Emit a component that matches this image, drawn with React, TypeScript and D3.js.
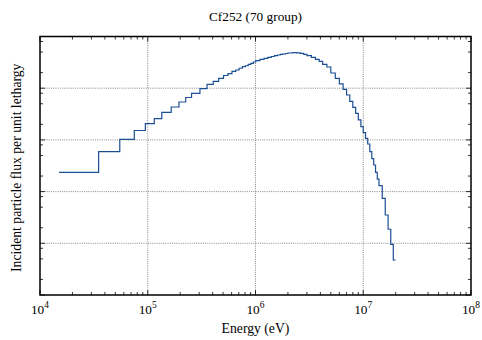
import React from "react";
import * as d3 from "d3";

// Group boundaries (eV) of the 70-group source spectrum, lowest first.
const groupBounds: number[] = [
  1.5e4, 3.5e4, 5.5e4, 7.5e4, 9.5e4, 1.15e5, 1.35e5, 1.65e5, 1.95e5, 2.25e5,
  2.55e5, 3.05e5, 3.55e5, 4.05e5, 4.55e5, 5.05e5, 5.55e5, 6.05e5, 6.55e5, 7.05e5,
  7.55e5, 8.05e5, 8.55e5, 9.05e5, 9.55e5, 1.005e6,
  1.1e6, 1.2e6, 1.3e6, 1.4e6, 1.5e6, 1.6e6, 1.7e6, 1.8e6, 1.9e6, 2.0e6,
  2.2e6, 2.4e6, 2.6e6, 2.8e6, 3.0e6, 3.3e6, 3.6e6, 3.9e6, 4.2e6, 4.6e6,
  5.0e6, 5.5e6, 6.0e6, 6.5e6, 7.0e6, 7.5e6, 8.0e6, 8.5e6, 9.0e6, 9.5e6,
  1.0e7, 1.05e7, 1.1e7, 1.15e7, 1.2e7, 1.25e7, 1.3e7, 1.35e7, 1.4e7,
  1.5e7, 1.6e7, 1.7e7, 1.8e7, 1.9e7, 2.0e7,
];

// Flux per unit lethargy in each group (arbitrary units).
const groupFlux: number[] = [
  0.00236, 0.00591, 0.0102, 0.0152, 0.0206, 0.0259, 0.0342, 0.0433, 0.0541, 0.0661,
  0.0797, 0.0978, 0.119, 0.136, 0.155, 0.176, 0.191, 0.212, 0.225, 0.243,
  0.261, 0.272, 0.29, 0.303, 0.321,
  0.343, 0.362, 0.379, 0.396, 0.41, 0.425, 0.439, 0.451, 0.459, 0.469,
  0.48, 0.486, 0.484, 0.473, 0.453, 0.425, 0.396, 0.362, 0.331, 0.29,
  0.257,
  0.197, 0.155, 0.121, 0.0952, 0.0739, 0.0558, 0.0427, 0.0327, 0.0243, 0.018,
  0.0138, 0.0107, 0.00833, 0.00591, 0.00433, 0.00327, 0.00236, 0.00175, 0.0013,
  0.000742, 0.000353, 0.000187, 0.0000957, 0.0000475,
];

const xDecades: number[] = [1e4, 1e5, 1e6, 1e7, 1e8];
const xTickExponents: string[] = ["4", "5", "6", "7", "8"];
const yDecades: number[] = [1e-5, 1e-4, 1e-3, 1e-2, 1e-1, 1];
const xMinorFactors: number[] = [2, 3, 4, 5, 6, 7, 8, 9];
const yMinorFactors: number[] = [2, 5, 8];

const titleText = "Cf252 (70 group)";
const xLabelText = "Energy (eV)";
const yLabelText = "Incident particle flux per unit lethargy";

const W = 482;
const H = 340;
const plot = { left: 40, right: 471, top: 36.5, bottom: 295 };
const FONT = "'Liberation Serif', 'Times New Roman', serif";
const LINE = "#1a4f94";

export default function App() {
  const x = d3.scaleLog().domain([1e4, 1e8]).range([plot.left, plot.right]);
  const y = d3.scaleLog().domain([1e-5, 1]).range([plot.bottom, plot.top]);

  const pts: [number, number][] = groupFlux.map((v, i) => [groupBounds[i], v]);
  pts.push([groupBounds[groupBounds.length - 1], groupFlux[groupFlux.length - 1]]);
  const path = d3
    .line<[number, number]>()
    .x((d) => x(d[0]))
    .y((d) => y(d[1]))
    .curve(d3.curveStepAfter)(pts) as string;

  const xMinor: number[] = [];
  xDecades.slice(0, -1).forEach((d) => xMinorFactors.forEach((f) => xMinor.push(d * f)));
  const yMinor: number[] = [];
  yDecades.slice(0, -1).forEach((d) => yMinorFactors.forEach((f) => yMinor.push(d * f)));

  const majorLen = 5;
  const minorLen = 3;
  const grid = { stroke: "#7a7a7a", strokeWidth: 0.9, strokeDasharray: "1,1.2" };

  return (
    <svg
      width={W}
      height={H}
      style={{ position: "absolute", left: 0, top: 0, background: "#fff" }}
      fontFamily={FONT}
    >
      {/* grid */}
      {xDecades.slice(1, -1).map((d) => (
        <line key={"gx" + d} x1={x(d)} x2={x(d)} y1={plot.top} y2={plot.bottom} {...grid} />
      ))}
      {yDecades.slice(1, -1).map((d) => (
        <line key={"gy" + d} x1={plot.left} x2={plot.right} y1={y(d)} y2={y(d)} {...grid} />
      ))}

      {/* ticks on all four sides, pointing inward */}
      <g stroke="#000" strokeWidth={0.8}>
        {xDecades.map((d) => (
          <g key={"tx" + d}>
            <line x1={x(d)} x2={x(d)} y1={plot.bottom} y2={plot.bottom - majorLen} />
            <line x1={x(d)} x2={x(d)} y1={plot.top} y2={plot.top + majorLen} />
          </g>
        ))}
        {xMinor.map((d) => (
          <g key={"mx" + d}>
            <line x1={x(d)} x2={x(d)} y1={plot.bottom} y2={plot.bottom - minorLen} />
            <line x1={x(d)} x2={x(d)} y1={plot.top} y2={plot.top + minorLen} />
          </g>
        ))}
        {yDecades.map((d) => (
          <g key={"ty" + d}>
            <line x1={plot.left} x2={plot.left + majorLen} y1={y(d)} y2={y(d)} />
            <line x1={plot.right} x2={plot.right - majorLen} y1={y(d)} y2={y(d)} />
          </g>
        ))}
        {yMinor.map((d) => (
          <g key={"my" + d}>
            <line x1={plot.left} x2={plot.left + minorLen} y1={y(d)} y2={y(d)} />
            <line x1={plot.right} x2={plot.right - minorLen} y1={y(d)} y2={y(d)} />
          </g>
        ))}
      </g>

      {/* spectrum */}
      <path d={path} fill="none" stroke={LINE} strokeWidth={1.2} />

      {/* frame */}
      <rect
        x={plot.left}
        y={plot.top}
        width={plot.right - plot.left}
        height={plot.bottom - plot.top}
        fill="none"
        stroke="#000"
        strokeWidth={1.5}
      />

      {/* x tick labels */}
      {xDecades.map((d, i) => (
        <text key={"lx" + d} x={x(d)} y={313.5} fontSize={13.3} textAnchor="middle">
          10
          <tspan dy={-5.5} fontSize={9.5}>
            {xTickExponents[i]}
          </tspan>
        </text>
      ))}

      <text x={(plot.left + plot.right) / 2} y={21} fontSize={13.3} textAnchor="middle">
        {titleText}
      </text>
      <text x={(plot.left + plot.right) / 2} y={333} fontSize={13.7} textAnchor="middle">
        {xLabelText}
      </text>
      <text
        transform={`translate(21,${(plot.top + plot.bottom) / 2 + 2}) rotate(-90)`}
        fontSize={13.7}
        textAnchor="middle"
      >
        {yLabelText}
      </text>
    </svg>
  );
}
